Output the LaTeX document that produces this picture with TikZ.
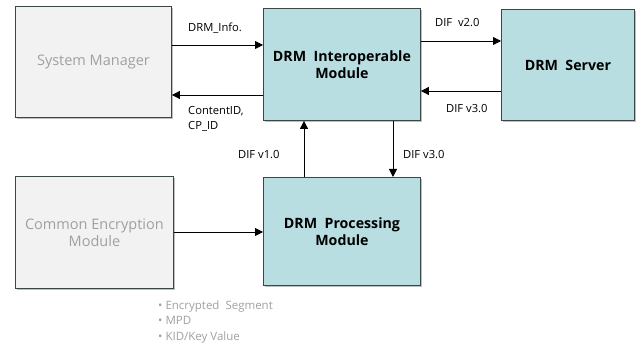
\documentclass[tikz,border=0pt]{standalone}
\usepackage{fontspec}
\setmainfont{Open Sans}
\usetikzlibrary{shadows,arrows.meta}
\definecolor{tealfill}{HTML}{B8DEE1}
\definecolor{greyfill}{HTML}{F2F2F2}
\definecolor{greytext}{HTML}{A0A0A0}
\definecolor{boxline}{HTML}{3C4646}
\tikzset{
  box/.style={draw=boxline, line width=0.9pt, anchor=north west, inner sep=0pt,
    drop shadow={shadow xshift=1.5pt, shadow yshift=-1.5pt, fill=black, opacity=0.25}},
  drmbox/.style={box, fill=tealfill, font=\bfseries\fontsize{14.2}{17}\selectfont, align=center},
  extbox/.style={box, fill=greyfill, text=greytext, font=\fontsize{14.5}{17}\selectfont, align=center},
  flow/.style={-{Triangle[length=8pt,width=8pt]}, line width=0.8pt, black},
  lbl/.style={font=\fontsize{11.2}{15}\selectfont, inner sep=0pt, anchor=west, align=left},
}
\begin{document}
\begin{tikzpicture}[x=1pt,y=-1pt]
\useasboundingbox (0,0) rectangle (643,347);
% modules
\node[extbox, minimum width=156pt, minimum height=111pt] (sm) at (15,6) {System Manager};
\node[drmbox, minimum width=157pt, minimum height=112pt] (im) at (263,8) {DRM~ Interoperable\\Module};
\node[drmbox, minimum width=133pt, minimum height=111pt] (srv) at (501,9) {DRM~ Server};
\node[extbox, minimum width=158pt, minimum height=112pt] (cem) at (15,176) {Common Encryption\\Module};
\node[drmbox, minimum width=157pt, minimum height=108pt] (pm) at (263,177) {DRM~ Processing\\Module};
% connectors
\draw[flow] (sm.east |- 0,45) -- (im.west |- 0,45);
\draw[flow] (im.west |- 0,95) -- (sm.east |- 0,95);
\draw[flow] (im.east |- 0,41) -- (srv.west |- 0,41);
\draw[flow] (srv.west |- 0,91) -- (im.east |- 0,91);
\draw[flow] (im.south -| 393,0) -- (pm.north -| 393,0);
\draw[flow] (pm.north -| 304,0) -- (im.south -| 304,0);
\draw[flow] (cem.east |- 0,232) -- (pm.west |- 0,232);
% labels
\node[lbl] (l1) at (188,28) {DRM\_Info.};
\node[lbl] (l2) at (188,119) {ContentID,\\CP\_ID};
\node[lbl] (l3) at (435,23) {DIF~~v2.0};
\node[lbl] (l4) at (446,109) {DIF v3.0};
\node[lbl] (l5) at (403,155) {DIF v3.0};
\node[lbl] (l6) at (238,155) {DIF v1.0};
\node[lbl, text=greytext, font=\fontsize{11.5}{15.5}\selectfont] (l7) at (158,322)
  {\textbullet\ Encrypted~ Segment\\\textbullet\ MPD\\\textbullet\ KID/Key Value};
\end{tikzpicture}
\end{document}
